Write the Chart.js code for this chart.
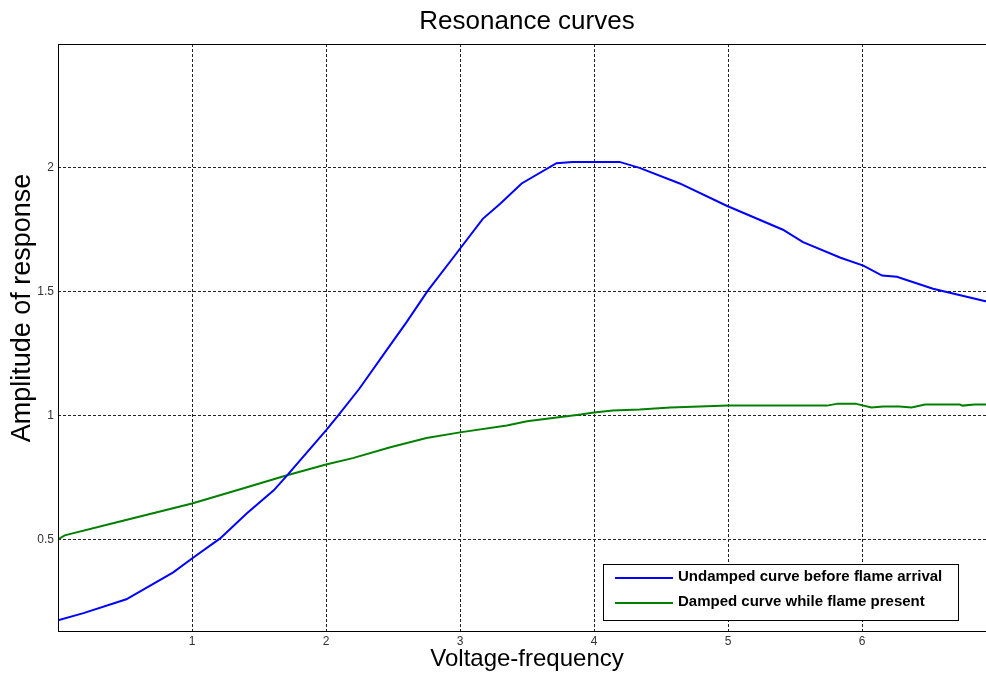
<!DOCTYPE html>
<html>
<head>
<meta charset="utf-8">
<title>Resonance curves</title>
<script src="https://cdn.jsdelivr.net/npm/chart.js@4/dist/chart.umd.min.js"></script>
<style>
  html, body { margin: 0; padding: 0; background: #fff; }
  #wrap { width: 986px; height: 674px; overflow: hidden; }
</style>
</head>
<body>
<div id="wrap"><canvas id="resonance" width="996" height="674"></canvas></div>
<script>
// undamped response, before the flame arrives
const undampedX = [0, 0.19, 0.51, 0.86, 1.0, 1.21, 1.41, 1.61, 1.71, 2.0, 2.09, 2.25, 2.45, 2.6, 2.76,
  2.95, 3.17, 3.3, 3.46, 3.72, 3.84, 4.19, 4.34, 4.64, 4.99, 5.41, 5.56, 5.84, 6.01, 6.15, 6.26, 6.53, 6.93];
const undampedY = [0.173, 0.202, 0.258, 0.367, 0.423, 0.504, 0.605, 0.698, 0.758, 0.94, 1.0, 1.109, 1.262, 1.376, 1.504,
  1.638, 1.794, 1.855, 1.937, 2.019, 2.024, 2.024, 2.0, 1.937, 1.847, 1.75, 1.70, 1.637, 1.605, 1.565, 1.56, 1.512, 1.46];

// damped response, flame present
const dampedX = [0, 0.05, 0.41, 1.0, 1.36, 1.69, 2.0, 2.2, 2.48, 2.75, 3.0, 3.35, 3.5, 3.9, 4.0, 4.14,
  4.34, 4.57, 4.79, 5.0, 5.74, 5.82, 5.95, 6.07, 6.16, 6.28, 6.37, 6.47, 6.73, 6.75, 6.84, 6.93];
const dampedY = [0.5, 0.516, 0.565, 0.645, 0.702, 0.756, 0.802, 0.828, 0.872, 0.909, 0.932, 0.96, 0.977, 1.004, 1.012, 1.02,
  1.024, 1.032, 1.036, 1.04, 1.04, 1.048, 1.048, 1.032, 1.036, 1.036, 1.032, 1.044, 1.044, 1.04, 1.044, 1.044];

const xTicks = [1, 2, 3, 4, 5, 6];
const yTicks = [0.5, 1, 1.5, 2];

const toPoints = (xs, ys) => xs.map((x, i) => ({ x, y: ys[i] }));

const FONT = "'Liberation Sans', Arial, Helvetica, sans-serif";

// box around the axes, like a matlab plot
const frame = {
  id: 'frame',
  afterDatasetsDraw(chart) {
    const { ctx, chartArea: a } = chart;
    ctx.save();
    ctx.strokeStyle = '#000';
    ctx.lineWidth = 1;
    ctx.strokeRect(Math.round(a.left) + 0.5, Math.round(a.top) + 0.5,
      Math.round(a.right - a.left), Math.round(a.bottom - a.top));
    ctx.restore();
  }
};

// y label sits a bit above the axis centre
const yLabel = {
  id: 'yLabel',
  afterDraw(chart) {
    const { ctx } = chart;
    ctx.save();
    ctx.translate(30, 308);
    ctx.rotate(-Math.PI / 2);
    ctx.font = '27px ' + FONT;
    ctx.fillStyle = '#000';
    ctx.textAlign = 'center';
    ctx.textBaseline = 'alphabetic';
    ctx.fillText('Amplitude of response', 0, 0);
    ctx.restore();
  }
};

// boxed legend in the lower right corner
const boxLegend = {
  id: 'boxLegend',
  afterDraw(chart) {
    const { ctx } = chart;
    const left = 603, top = 564, w = 355, h = 56;
    ctx.save();
    ctx.fillStyle = '#fff';
    ctx.fillRect(left, top, w, h);
    ctx.strokeStyle = '#000';
    ctx.lineWidth = 1;
    ctx.strokeRect(left + 0.5, top + 0.5, w, h);
    ctx.font = 'bold 15px ' + FONT;
    ctx.textBaseline = 'middle';
    chart.data.datasets.forEach((ds, i) => {
      const y = top + 14 + i * 25;
      ctx.strokeStyle = ds.borderColor;
      ctx.lineWidth = 2;
      ctx.beginPath();
      ctx.moveTo(615, y);
      ctx.lineTo(673, y);
      ctx.stroke();
      ctx.fillStyle = '#000';
      ctx.fillText(ds.label, 678, y - 1);
    });
    ctx.restore();
  }
};

const data = {
  datasets: [
    {
      label: 'Undamped curve before flame arrival',
      data: toPoints(undampedX, undampedY),
      borderColor: '#0000ff',
      borderWidth: 2,
      pointRadius: 0,
      tension: 0
    },
    {
      label: 'Damped curve while flame present',
      data: toPoints(dampedX, dampedY),
      borderColor: '#008000',
      borderWidth: 2,
      pointRadius: 0,
      tension: 0
    }
  ]
};

const tickFont = { family: FONT, size: 12 };

const config = {
  type: 'line',
  data,
  plugins: [frame, yLabel, boxLegend],
  options: {
    responsive: false,
    animation: false,
    devicePixelRatio: 1,
    layout: { padding: 0 },
    plugins: {
      legend: { display: false },
      tooltip: { enabled: false },
      title: {
        display: true,
        fullSize: false,
        text: 'Resonance curves',
        color: '#000',
        font: { family: FONT, size: 26, weight: 'normal', lineHeight: 1.2 },
        padding: { top: 6, bottom: 6.8 }
      }
    },
    scales: {
      x: {
        type: 'linear',
        min: 0,
        max: 7,
        afterBuildTicks: scale => { scale.ticks = xTicks.map(value => ({ value })); },
        afterFit: scale => { scale.height = 43; },
        grid: { color: '#222', lineWidth: 1, drawTicks: false },
        border: { display: false, dash: [3, 2] },
        ticks: { color: '#333', font: tickFont, padding: 3, maxRotation: 0, callback: v => String(v) },
        title: {
          display: true,
          text: 'Voltage-frequency',
          color: '#000',
          font: { family: FONT, size: 24, lineHeight: 1.2 },
          padding: { top: 0, bottom: 0 }
        }
      },
      y: {
        type: 'linear',
        min: 0.13,
        max: 2.5,
        afterBuildTicks: scale => { scale.ticks = yTicks.map(value => ({ value })); },
        afterFit: scale => { scale.width = 58; },
        grid: { color: '#222', lineWidth: 1, drawTicks: false },
        border: { display: false, dash: [3, 2] },
        ticks: { color: '#333', font: tickFont, padding: 4, callback: v => String(v) }
      }
    }
  }
};

new Chart(document.getElementById('resonance'), config);
</script>
</body>
</html>
